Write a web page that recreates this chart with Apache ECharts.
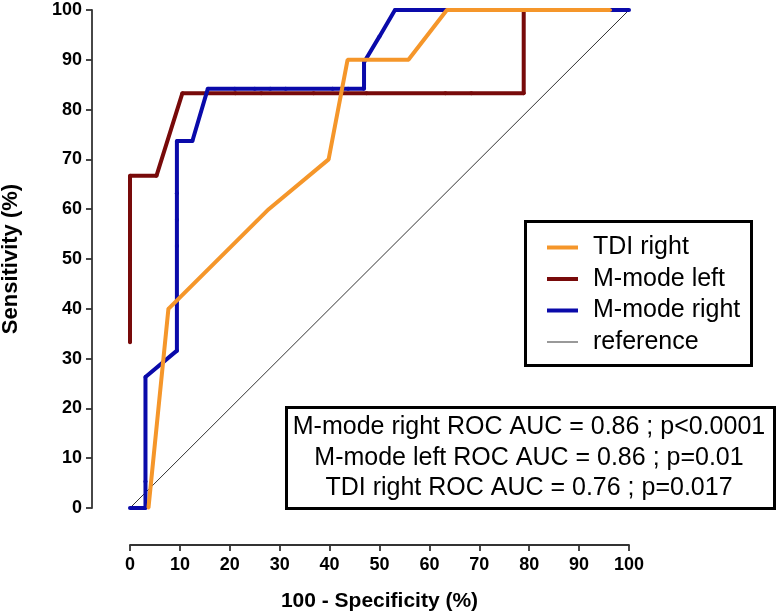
<!DOCTYPE html>
<html>
<head>
<meta charset="utf-8">
<script src="https://cdn.jsdelivr.net/npm/echarts@6/dist/echarts.min.js"></script>
<style>
html,body{margin:0;padding:0;background:#fff;}
#chart{width:780px;height:613px;}
</style>
</head>
<body>
<div id="chart"></div>
<script>
// ---- data ----
var xTicks = [0, 10, 20, 30, 40, 50, 60, 70, 80, 90, 100];
var yTicks = [0, 10, 20, 30, 40, 50, 60, 70, 80, 90, 100];

var seriesNames = ['TDI right', 'M-mode left', 'M-mode right', 'reference'];

var tdiRightX = [3.7, 7.7, 27.8, 39.8, 43.6, 55.8, 63.5, 96.3];
var tdiRightY = [0, 40, 60, 70, 90, 90, 100, 100];

var mModeLeftX = [0, 0, 0, 5.3, 10.5, 21.1, 26.3, 36.8, 47.4, 63.2, 68.4, 78.9, 78.9];
var mModeLeftY = [33.3, 50, 66.7, 66.7, 83.3, 83.3, 83.3, 83.3, 83.3, 83.3, 83.3, 83.3, 100];

var mModeRightX = [0, 3.1, 3.1, 3.1, 9.4, 9.4, 9.4, 9.4, 9.4, 12.5, 15.6, 21.0, 25.0, 28.1, 31.2, 40.6, 43.7, 46.9, 46.9, 50.0, 53.1, 100];
var mModeRightY = [0, 0, 5.3, 26.3, 31.6, 52.6, 57.9, 63.2, 73.7, 73.7, 84.2, 84.2, 84.2, 84.2, 84.2, 84.2, 84.2, 84.2, 89.5, 94.7, 100, 100];

var referenceX = [0, 100];
var referenceY = [0, 100];

var aucLines = [
  'M-mode right ROC AUC = 0.86 ; p<0.0001',
  'M-mode left ROC AUC = 0.86 ; p=0.01',
  'TDI right ROC AUC = 0.76 ; p=0.017'
];

function pairs(xs, ys) {
  return xs.map(function (x, i) { return [x, ys[i]]; });
}

var FONT = 'Liberation Sans, Arial, Helvetica, sans-serif';
var cOrange = '#F5962A', cRed = '#780A0A', cBlue = '#0A0AAA';

var chart = echarts.init(document.getElementById('chart'), null, {renderer: 'canvas'});

var option = {
  backgroundColor: '#ffffff',
  animation: false,
  grid: {left: 130, top: 10, width: 499, height: 498, containLabel: false, outerBoundsMode: 'none'},
  xAxis: {
    type: 'value', min: 0, max: 100, interval: 10,
    offset: 37,
    name: '100 - Specificity (%)', nameLocation: 'middle', nameGap: 46,
    nameTextStyle: {fontFamily: FONT, fontWeight: 'bold', fontSize: 21, color: '#000'},
    axisLine: {show: true, onZero: false, lineStyle: {color: '#333', width: 1.8}},
    axisTick: {show: true, inside: false, length: 6, lineStyle: {color: '#333', width: 1.8}},
    axisLabel: {fontFamily: FONT, fontWeight: 'bold', fontSize: 18, color: '#000', margin: 11,
      formatter: function (v) { return xTicks.indexOf(v) >= 0 ? String(v) : ''; }},
    splitLine: {show: false}
  },
  yAxis: {
    type: 'value', min: 0, max: 100, interval: 10,
    offset: 38,
    name: 'Sensitivity (%)', nameLocation: 'middle', nameGap: 70, nameRotate: 90,
    nameTextStyle: {fontFamily: FONT, fontWeight: 'bold', fontSize: 22, color: '#000'},
    axisLine: {show: true, onZero: false, lineStyle: {color: '#333', width: 1.8}},
    axisTick: {show: true, inside: false, length: 6, lineStyle: {color: '#333', width: 1.8}},
    axisLabel: {fontFamily: FONT, fontWeight: 'bold', fontSize: 18, color: '#000', margin: 10,
      formatter: function (v) { return yTicks.indexOf(v) >= 0 ? String(v) : ''; }},
    splitLine: {show: false}
  },
  legend: {
    orient: 'vertical',
    left: 547, top: 235,
    padding: 0,
    itemWidth: 31, itemHeight: 4, itemGap: 6.5,
    symbolKeepAspect: true,
    textStyle: {fontFamily: FONT, fontSize: 25, lineHeight: 25, color: '#000', padding: [0, 0, 0, 10]},
    data: [
      {name: seriesNames[0], icon: 'rect'},
      {name: seriesNames[1], icon: 'rect'},
      {name: seriesNames[2], icon: 'rect'},
      {name: seriesNames[3], icon: 'path://M0,0 L31,0 L31,1 L0,1 Z'}
    ]
  },
  series: [
    {
      name: 'reference', type: 'line', data: pairs(referenceX, referenceY),
      symbol: 'none', lineStyle: {color: '#333', width: 1}, itemStyle: {color: '#333'}, z: 1
    },
    {
      name: 'M-mode left', type: 'line', data: pairs(mModeLeftX, mModeLeftY),
      symbol: 'circle', symbolSize: 4, color: cRed,
      lineStyle: {color: cRed, width: 4}, itemStyle: {color: cRed}, z: 2
    },
    {
      name: 'M-mode right', type: 'line', data: pairs(mModeRightX, mModeRightY),
      symbol: 'circle', symbolSize: 4, color: cBlue,
      lineStyle: {color: cBlue, width: 4}, itemStyle: {color: cBlue}, z: 3
    },
    {
      name: 'TDI right', type: 'line', data: pairs(tdiRightX, tdiRightY),
      symbol: 'circle', symbolSize: 3, color: cOrange,
      lineStyle: {color: cOrange, width: 4}, itemStyle: {color: cOrange}, z: 4
    }
  ],
  graphic: [
    {type: 'rect', left: 523, top: 219, shape: {x: 0, y: 0, width: 226, height: 144},
      style: {fill: 'none', stroke: '#000', lineWidth: 3}, z: 10},
    {type: 'rect', left: 285, top: 406, shape: {x: 0, y: 0, width: 488, height: 101},
      style: {fill: '#fff', stroke: '#000', lineWidth: 3}, z: 10},
    {type: 'text', x: 529, y: 427, z: 11,
      style: {text: aucLines[0], font: '25px ' + FONT, fill: '#000', textAlign: 'center', textVerticalAlign: 'middle'}},
    {type: 'text', x: 529, y: 458, z: 11,
      style: {text: aucLines[1], font: '25px ' + FONT, fill: '#000', textAlign: 'center', textVerticalAlign: 'middle'}},
    {type: 'text', x: 529, y: 488, z: 11,
      style: {text: aucLines[2], font: '25px ' + FONT, fill: '#000', textAlign: 'center', textVerticalAlign: 'middle'}}
  ]
};
chart.setOption(option);
</script>
</body>
</html>
